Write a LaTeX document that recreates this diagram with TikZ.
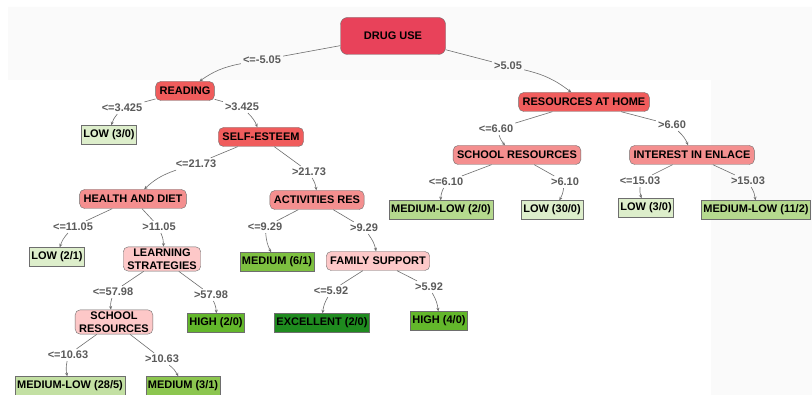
\documentclass[tikz,border=0pt]{standalone}
\usepackage{fontspec}
\setmainfont{Liberation Sans}
\usepackage{tikz}
\usetikzlibrary{arrows.meta,positioning,shapes.geometric}

\definecolor{rootred}{HTML}{E8425A}
\definecolor{splitred}{HTML}{F05C5C}
\definecolor{splitsalmon}{HTML}{F48F8F}
\definecolor{splitpink}{HTML}{FDC8C8}
\definecolor{edgegray}{HTML}{6E6E6E}
\definecolor{labgray}{HTML}{5A5A5A}
\definecolor{lowgreen}{HTML}{DDEECB}
\definecolor{mlgreen}{HTML}{B5D98E}
\definecolor{mllight}{HTML}{C3E0A3}
\definecolor{medgreen}{HTML}{7DC040}
\definecolor{medlight}{HTML}{8CC64F}
\definecolor{highgreen}{HTML}{63B72B}
\definecolor{excgreen}{HTML}{1F8B1F}
\definecolor{backgray}{HTML}{FAFAFA}

\begin{document}
\begin{tikzpicture}[x=1pt, y=-1pt,
    every node/.style={font=\fontsize{11}{12.5}\selectfont\bfseries},
    split/.style={draw=edgegray, rounded corners=5pt, inner xsep=4pt, inner ysep=2pt, minimum height=19pt, align=center},
    leaf/.style={draw=edgegray, inner xsep=2pt, inner ysep=2pt, minimum height=19pt},
    cond/.style={text=labgray, inner sep=2pt},
    conn/.style={draw=edgegray, line width=0.6pt},
    tip/.style={conn, -{Stealth[length=3.5pt, width=3pt]}},
    tipl/.style={tip, bend right=12},
    tipr/.style={tip, bend left=12}]
      \useasboundingbox (0, 0) rectangle (812, 395);
      \fill[white] (0, 0) rectangle (812, 395);
      \fill[backgray] (8, 7) -- (812, 7) -- (812, 395) -- (711, 395) -- (711, 80) -- (8, 80) -- cycle;

      % decision nodes
      \node[split, fill=rootred, minimum width=105pt, minimum height=37pt, rounded corners=7pt] (drug) at (393, 36) {DRUG USE};
      \node[split, fill=splitred] (reading) at (185, 91) {READING};
      \node[split, fill=splitred] (esteem) at (261, 137) {SELF-ESTEEM};
      \node[split, fill=splitred] (home) at (584, 102) {RESOURCES AT HOME};
      \node[split, fill=splitsalmon] (schoolr) at (517, 155) {SCHOOL RESOURCES};
      \node[split, fill=splitsalmon] (enlace) at (692, 155) {INTEREST IN ENLACE};
      \node[split, fill=splitsalmon] (health) at (133, 199) {HEALTH AND DIET};
      \node[split, fill=splitsalmon] (activ) at (317, 200) {ACTIVITIES RES};
      \node[split, fill=splitpink] (learn) at (162, 259) {LEARNING\\STRATEGIES};
      \node[split, fill=splitpink] (family) at (378, 261) {FAMILY SUPPORT};
      \node[split, fill=splitpink] (schooll) at (114, 322) {SCHOOL\\RESOURCES};

      % leaves
      \node[leaf, fill=lowgreen] (low1) at (109, 135) {LOW (3/0)};
      \node[leaf, fill=mlgreen] (ml1) at (441, 210) {MEDIUM-LOW (2/0)};
      \node[leaf, fill=lowgreen] (low2) at (552, 210) {LOW (30/0)};
      \node[leaf, fill=lowgreen] (low3) at (646, 208) {LOW (3/0)};
      \node[leaf, fill=mlgreen] (ml2) at (756, 210) {MEDIUM-LOW (11/2)};
      \node[leaf, fill=lowgreen] (low4) at (57, 257) {LOW (2/1)};
      \node[leaf, fill=medgreen] (med1) at (277, 262) {MEDIUM (6/1)};
      \node[leaf, fill=highgreen] (high1) at (216, 323) {HIGH (2/0)};
      \node[leaf, fill=excgreen] (exc) at (322, 323) {EXCELLENT (2/0)};
      \node[leaf, fill=highgreen] (high2) at (439, 321) {HIGH (4/0)};
      \node[leaf, fill=mllight] (ml3) at (70, 386) {MEDIUM-LOW (28/5)};
      \node[leaf, fill=medlight] (med2) at (183, 386) {MEDIUM (3/1)};

      % split conditions
      \node[cond] (c1) at (262, 60) {<=-5.05};
      \node[cond] (c2) at (508, 66) {>5.05};
      \node[cond] (c3) at (122, 108) {<=3.425};
      \node[cond] (c4) at (242, 107) {>3.425};
      \node[cond] (c5) at (496, 129) {<=6.60};
      \node[cond] (c6) at (672, 125) {>6.60};
      \node[cond] (c7) at (196, 164) {<=21.73};
      \node[cond] (c8) at (309, 172) {>21.73};
      \node[cond] (c9) at (446, 182) {<=6.10};
      \node[cond] (c10) at (565, 182) {>6.10};
      \node[cond] (c11) at (640, 181) {<=15.03};
      \node[cond] (c12) at (748, 181) {>15.03};
      \node[cond] (c13) at (73, 227) {<=11.05};
      \node[cond] (c14) at (159, 227) {>11.05};
      \node[cond] (c15) at (265, 227) {<=9.29};
      \node[cond] (c16) at (364, 228) {>9.29};
      \node[cond] (c17) at (113, 292) {<=57.98};
      \node[cond] (c18) at (211, 295) {>57.98};
      \node[cond] (c19) at (331, 291) {<=5.92};
      \node[cond] (c20) at (429, 287) {>5.92};
      \node[cond] (c21) at (68, 355) {<=10.63};
      \node[cond] (c22) at (162, 359) {>10.63};

      % branches
      \draw[conn] (drug) -- (c1);
      \draw[tipl] (c1) to (reading);
      \draw[conn] (drug) -- (c2);
      \draw[tipr] (c2) to (home);

      \draw[conn] (reading) -- (c3);
      \draw[tipl] (c3) to (low1);
      \draw[conn] (reading) -- (c4);
      \draw[tipr] (c4) to (esteem);

      \draw[conn] (home) -- (c5);
      \draw[tipl] (c5) to (schoolr);
      \draw[conn] (home) -- (c6);
      \draw[tipr] (c6) to (enlace);

      \draw[conn] (esteem) -- (c7);
      \draw[tipl] (c7) to (health);
      \draw[conn] (esteem) -- (c8);
      \draw[tipr] (c8) to (activ);

      \draw[conn] (schoolr) -- (c9);
      \draw[tipl] (c9) to (ml1);
      \draw[conn] (schoolr) -- (c10);
      \draw[tipr] (c10) to (low2);
      \draw[conn] (enlace) -- (c11);
      \draw[tipl] (c11) to (low3);
      \draw[conn] (enlace) -- (c12);
      \draw[tipr] (c12) to (ml2);

      \draw[conn] (health) -- (c13);
      \draw[tipl] (c13) to (low4);
      \draw[conn] (health) -- (c14);
      \draw[tipr] (c14) to (learn);
      \draw[conn] (activ) -- (c15);
      \draw[tipl] (c15) to (med1);
      \draw[conn] (activ) -- (c16);
      \draw[tipr] (c16) to (family);

      \draw[conn] (learn) -- (c17);
      \draw[tipl] (c17) to (schooll);
      \draw[conn] (learn) -- (c18);
      \draw[tipr] (c18) to (high1);
      \draw[conn] (family) -- (c19);
      \draw[tipl] (c19) to (exc);
      \draw[conn] (family) -- (c20);
      \draw[tipr] (c20) to (high2);

      \draw[conn] (schooll) -- (c21);
      \draw[tipl] (c21) to (ml3);
      \draw[conn] (schooll) -- (c22);
      \draw[tipr] (c22) to (med2);

    \end{tikzpicture}
\end{document}
